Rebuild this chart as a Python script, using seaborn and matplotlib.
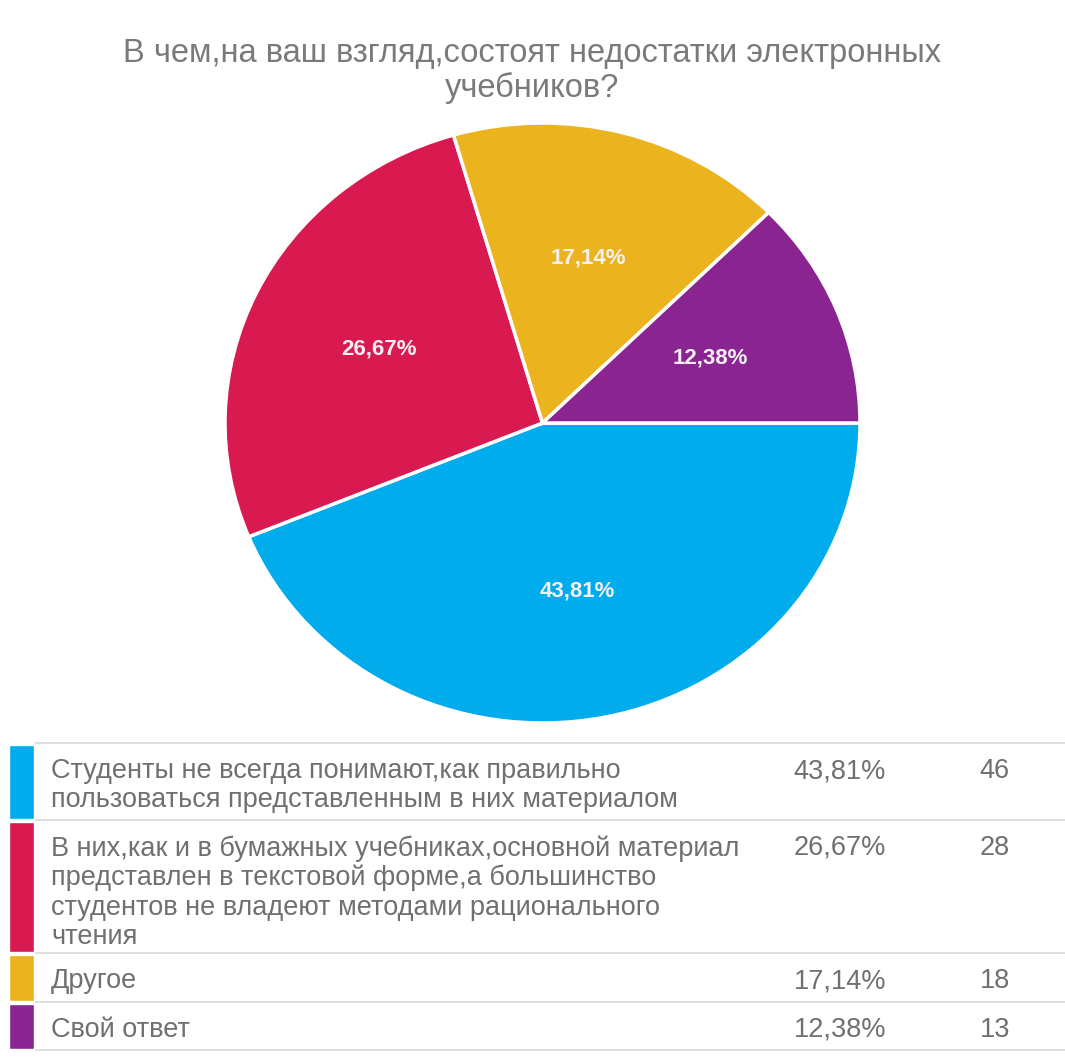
import matplotlib.pyplot as plt
import seaborn as sns

# Данные опроса
title = "В чем,на ваш взгляд,состоят недостатки электронных\nучебников?"
answers = [
    "Студенты не всегда понимают,как правильно\nпользоваться представленным в них материалом",
    "В них,как и в бумажных учебниках,основной материал\nпредставлен в текстовой форме,а большинство\n"
    "студентов не владеют методами рационального\nчтения",
    "Другое",
    "Свой ответ",
]
counts = [46, 28, 18, 13]
percents = ["43,81%", "26,67%", "17,14%", "12,38%"]
colors = ["#00ACEC", "#D81A50", "#EBB31E", "#8A2490"]

sns.set_theme(style="white")
plt.rcParams['font.family'] = ['Liberation Sans', 'DejaVu Sans']

W, H = 1065, 1057
fig = plt.figure(figsize=(W / 100, H / 100), dpi=100)

# круговая диаграмма (в пикселях картинки)
px_l, px_r, px_t, px_b = 225, 860, 123, 723
ax = fig.add_axes([px_l / W, 1 - px_b / H, (px_r - px_l) / W, (px_b - px_t) / H])
wedges, texts, autotexts = ax.pie(
    counts, colors=colors, startangle=0, counterclock=False,
    autopct=lambda p: f"{p:.2f}%".replace('.', ','), pctdistance=0.57,
    wedgeprops=dict(edgecolor='white', linewidth=2.5),
    textprops=dict(color='#f6f0f4', fontsize=16, fontweight='bold'))
ax.set_aspect('auto')
ax.set_xlim(-1, 1)
ax.set_ylim(-1, 1)

fig.text(532 / W, 1 - 71 / H, title, ha='center', va='center', fontsize=23.5,
         color='#7a7a7a', linespacing=1.12)

# таблица под диаграммой
tax = fig.add_axes([0, 0, 1, 1], zorder=-1)
tax.set_xlim(0, W)
tax.set_ylim(H, 0)
tax.axis('off')

bounds = [743, 820, 953, 1002, 1050]
tax.hlines(bounds, 35, W, color='#dcdcdc', lw=1.3)
for i, (ans, pct, cnt) in enumerate(zip(answers, percents, counts)):
    top, bot = bounds[i], bounds[i + 1]
    tax.bar(21.5, bot - top - 3, bottom=top + 1.5, width=25, color=colors[i])
    tax.text(51, top + 15, ans, ha='left', va='top', fontsize=19.5,
             color='#707070', linespacing=1.17)
    tax.text(886, top + 15, pct, ha='right', va='top', fontsize=19.5, color='#707070')
    tax.text(1010, top + 15, str(cnt), ha='right', va='top', fontsize=19.5, color='#707070')

fig.savefig('out.png', dpi=100, facecolor='white')
